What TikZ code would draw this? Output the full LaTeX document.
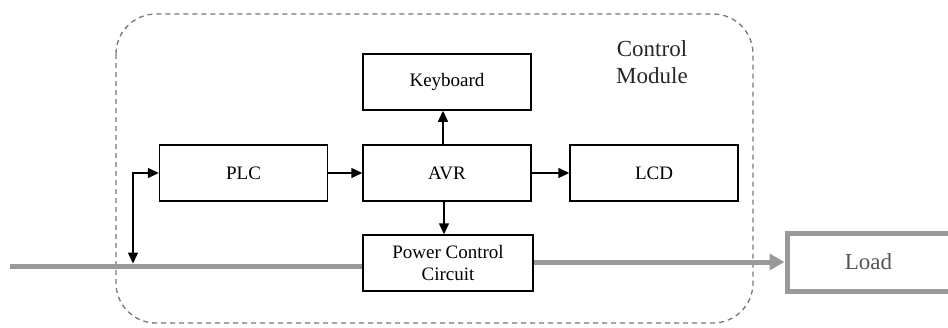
\documentclass[tikz,border=0pt]{standalone}
\usepackage{fontspec}
\setmainfont{Liberation Serif}
\usetikzlibrary{arrows.meta}
\definecolor{linegray}{HTML}{999999}
\definecolor{dashgray}{HTML}{777777}
\definecolor{loadtext}{HTML}{555555}
\begin{document}
\begin{tikzpicture}[x=1bp,y=-1bp,
  blk/.style={draw=black,line width=1.5bp,minimum width=168bp,minimum height=56bp,inner sep=0pt,align=center,font=\fontsize{19bp}{22bp}\selectfont},
  tip/.tip={Triangle[length=11bp,width=10bp]},
  sig/.style={line width=1.5bp,-tip},
  pwr/.style={draw=linegray,line width=5bp},
  lbl/.style={font=\fontsize{23bp}{27bp}\selectfont,align=center}]
\useasboundingbox (0,0) rectangle (948,327);
% dashed control module frame
\draw[dashgray,line width=1.3bp,dash pattern=on 5bp off 4bp,rounded corners=40bp] (116,14) rectangle (753,323);
\node[lbl,text=black!85] (cm) at (652,62) {Control\\Module};
% blocks
\node[blk] (plc) at (243.5,173) {PLC};
\node[blk] (avr) at (447,173) {AVR};
\node[blk] (kb)  at (447,82) {Keyboard};
\node[blk] (lcd) at (654,173) {LCD};
\node[blk,minimum width=170bp] (pcc) at (448,263) {Power Control\\Circuit};
\node[draw=linegray,line width=5bp,minimum width=163bp,minimum height=58bp,inner sep=0pt,text=loadtext,font=\fontsize{23bp}{27bp}\selectfont] (load) at (868.5,262) {Load};
% power line
\coordinate (src) at (10,266);
\coordinate (tap) at (133,263.5);
\draw[pwr] (src) -- (src -| pcc.west);
\draw[pwr,-{Triangle[length=15bp,width=16bp]}] (pcc.east |- load.west) -- (load.west);
% signals
\draw[line width=1.5bp,tip-tip] (tap) |- (plc.west);
\draw[sig] (plc.east) -- (avr.west);
\draw[sig] (avr.east) -- (lcd.west);
\draw[sig] ([xshift=-4bp]avr.north) -- ([xshift=-4bp]avr.north |- kb.south);
\draw[sig] ([xshift=-3bp]avr.south) -- ([xshift=-3bp]avr.south |- pcc.north);
\end{tikzpicture}
\end{document}
